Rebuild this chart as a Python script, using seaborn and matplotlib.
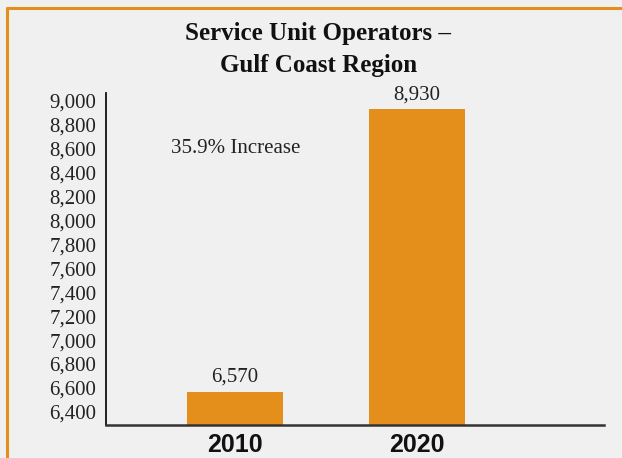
import matplotlib
matplotlib.use("Agg")
import matplotlib.pyplot as plt
import seaborn as sns
import pandas as pd
from matplotlib.lines import Line2D

years = ["2010", "2020"]
operators = [6570, 8930]
value_labels = ["6,570", "8,930"]
yticks = list(range(6400, 9001, 200))
ytick_labels = [f"{v:,}" for v in yticks]
title = "Service Unit Operators –\nGulf Coast Region"
note = "35.9% Increase"

bg = "#F0F0F0"
orange = "#E48E1B"

sns.set_style("white")
plt.rcParams["font.family"] = ["Liberation Serif", "DejaVu Serif"]

fig = plt.figure(figsize=(6.22, 4.58), dpi=100, facecolor=bg)
ax = fig.add_axes([106/622, 1-425/458, (604-106)/622, (425-93)/458])
ax.set_facecolor(bg)

df = pd.DataFrame({"year": years, "ops": operators})
sns.barplot(data=df, x="year", y="ops", color=orange, saturation=1, width=0.53,
            linewidth=0, edgecolor="none", ax=ax)

ax.set_xlim(-0.71, 2.03)
ax.set_ylim(6290, 9067)
ax.set_yticks(yticks)
ax.set_yticklabels(ytick_labels, fontsize=15, color="#222222")
ax.tick_params(axis="y", length=0, pad=7)
ax.tick_params(axis="x", length=0, pad=5.5)
for lbl in ax.get_xticklabels():
    lbl.set_fontfamily("Liberation Sans")
    lbl.set_fontweight("bold")
    lbl.set_fontsize(18)
    lbl.set_color("#111111")
ax.set_xlabel("")
ax.set_ylabel("")

for s in ["top", "right"]:
    ax.spines[s].set_visible(False)
ax.spines["left"].set_color("#111111")
ax.spines["left"].set_linewidth(1.3)
ax.spines["bottom"].set_color("#333333")
ax.spines["bottom"].set_linewidth(1.8)

for i, (v, t) in enumerate(zip(operators, value_labels)):
    ax.text(i, v + 40, t, ha="center", va="bottom", fontsize=15, color="#222222")

ax.text(-0.35, 8600, note, ha="left", va="center", fontsize=15, color="#222222")

fig.text(0.512, 1-49.5/458, title, ha="center", va="center", fontsize=18,
         fontweight="bold", linespacing=1.45, color="#111111")

fig.add_artist(Line2D([7/622, 1], [1-8/458, 1-8/458], color=orange, lw=2.2, transform=fig.transFigure))
fig.add_artist(Line2D([7/622, 7/622], [0, 1-8/458], color=orange, lw=2.2, transform=fig.transFigure))

fig.savefig("out.png", dpi=100, facecolor=bg)
